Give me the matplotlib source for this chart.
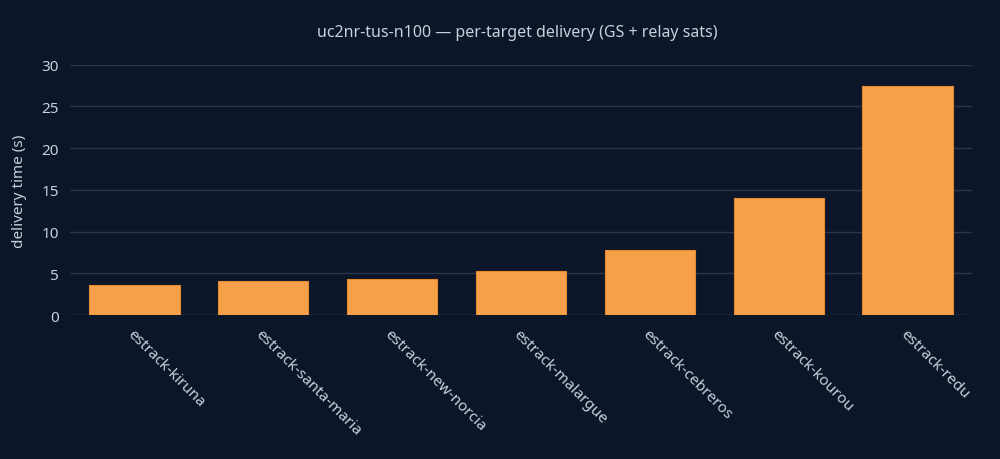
import matplotlib
matplotlib.use("Agg")
import matplotlib.pyplot as plt

targets = ["estrack-kiruna", "estrack-santa-maria", "estrack-new-norcia",
           "estrack-malargue", "estrack-cebreros", "estrack-kourou", "estrack-redu"]
delivery_s = [3.6, 4.1, 4.3, 5.3, 7.8, 14.0, 27.5]

plt.rcParams['font.family'] = ['Noto Sans', 'DejaVu Sans']
bg = '#0b1628'
txt = '#c8d0dc'
grid = '#2a3549'

fig = plt.figure(figsize=(10, 4.6), dpi=100, facecolor=bg)
ax = fig.add_axes([0.07, 0.313, 0.902, 0.544], facecolor=bg)

x = range(len(targets))
ax.bar(x, delivery_s, width=0.7, color='#f7a04a', edgecolor='#e8892e', linewidth=0.8, zorder=2)

ax.set_xlim(-0.5, len(targets) - 0.5)
ax.set_ylim(0, 30)
ax.set_yticks([0, 5, 10, 15, 20, 25, 30])
ax.grid(axis='y', color=grid, linewidth=1, zorder=0)
ax.set_xticks(list(x))
ax.set_xticklabels(targets, rotation=-45, ha='left', va='top', rotation_mode='anchor')
ax.tick_params(colors=txt, labelsize=11, length=0, pad=8)
for s in ax.spines.values():
    s.set_visible(False)
ax.axhline(0, color=grid, linewidth=1, zorder=1)
ax.set_ylabel('delivery time (s)', color=txt, fontsize=11, labelpad=10)

fig.text(0.517, 0.928, 'uc2nr-tus-n100 \u2014 per-target delivery (GS + relay sats)',
         color=txt, fontsize=11.5, ha='center', va='center')

fig.savefig('out.png', facecolor=bg)
